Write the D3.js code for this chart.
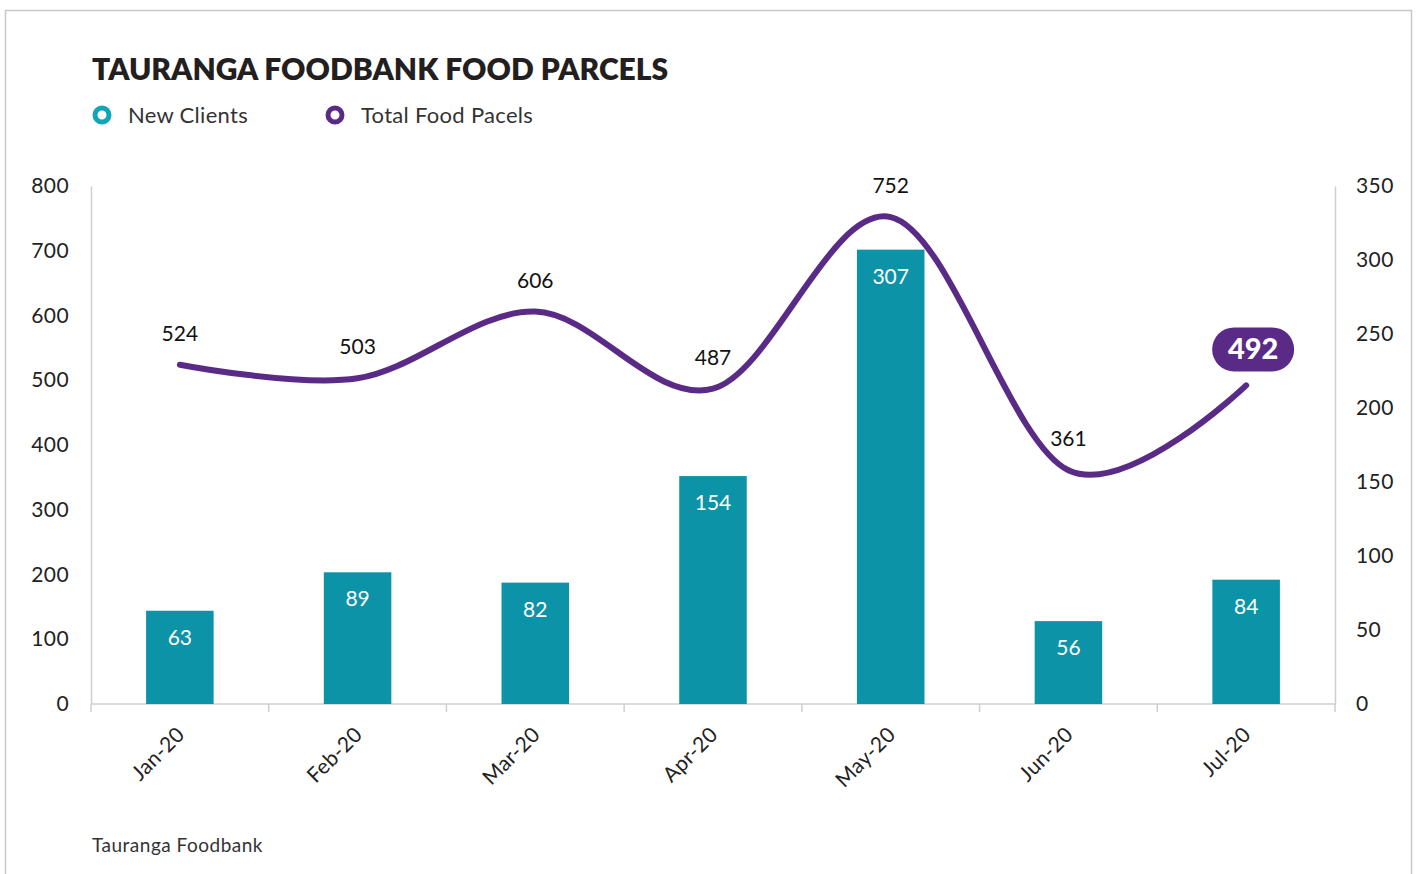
<html>
<script src="https://cdn.jsdelivr.net/npm/d3@7/dist/d3.min.js"></script>
<style>
  body { margin:0; background:#fff; }
  text { font-family: "Lato", "Open Sans", sans-serif; }
</style>
<body>
<svg id="chart"></svg>
<script>

// data
var months = ["Jan-20","Feb-20","Mar-20","Apr-20","May-20","Jun-20","Jul-20"];
var newClients = [63,89,82,154,307,56,84];
var totalParcels = [524,503,606,487,752,361,492];
var leftTicks = [0,100,200,300,400,500,600,700,800];
var rightTicks = [0,50,100,150,200,250,300,350];

var screen = {width:1416, height:874};
var margins = {top:186, bottom:170, left:91, right:81};
var graph = {
    width: screen.width - margins.left - margins.right,
    height: screen.height - margins.top - margins.bottom
};

var teal = "#0d93a8";
var purple = "#5a2a87";

var svg = d3.select("#chart")
    .attr("width", screen.width)
    .attr("height", screen.height);

// frame
svg.append("path")
    .attr("d","M5.5,874 V10.5 H1411.5 V874")
    .attr("fill","none")
    .attr("stroke","#c8c8c8")
    .attr("stroke-width",1.5);

// title + legend
svg.append("text")
    .attr("x",92).attr("y",80)
    .attr("font-size",30).attr("font-weight",800)
    .attr("fill","#231f20")
    .text("TAURANGA FOODBANK FOOD PARCELS");

var legend = [{name:"New Clients", color:"#12a5b9", x:102},
              {name:"Total Food Pacels", color:purple, x:335}];
var lg = svg.append("g").selectAll("g").data(legend).enter().append("g");
lg.append("circle")
    .attr("cx",function(d){ return d.x; }).attr("cy",115)
    .attr("r",7).attr("fill","none")
    .attr("stroke",function(d){ return d.color; }).attr("stroke-width",5);
lg.append("text")
    .attr("x",function(d){ return d.x+26; }).attr("y",123)
    .attr("font-size",22).attr("letter-spacing",0.3).attr("fill","#333")
    .text(function(d){ return d.name; });

// scales
var x = d3.scaleBand().domain(months).range([0,graph.width]).paddingInner(0.62).paddingOuter(0.31);
var xPoint = function(m){ return x(m) + x.bandwidth()/2; };
var yLeft = d3.scaleLinear().domain([0,800]).range([graph.height,0]);
var yRight = d3.scaleLinear().domain([0,350]).range([graph.height,0]);

var g = svg.append("g")
    .attr("transform","translate("+margins.left+","+margins.top+")");

// axes
var axisColor = "#cfcfcf";
var step = graph.width / months.length;
var xAxis = g.append("g").attr("transform","translate(0,"+graph.height+")");
xAxis.append("line").attr("x1",0).attr("x2",graph.width)
    .attr("stroke",axisColor).attr("stroke-width",1.5);
xAxis.selectAll(".tk").data(d3.range(months.length+1)).enter().append("line")
    .attr("x1",function(i){ return i*step; }).attr("x2",function(i){ return i*step; })
    .attr("y1",0).attr("y2",8)
    .attr("stroke",axisColor).attr("stroke-width",1.5);
xAxis.selectAll(".lb").data(months).enter().append("text")
    .attr("text-anchor","end")
    .attr("font-size",21).attr("letter-spacing",0.3).attr("fill","#222")
    .attr("transform",function(d){ return "translate("+(xPoint(d)+6)+",32) rotate(-45)"; })
    .text(function(d){ return d; });

var leftAxis = d3.axisLeft(yLeft).tickValues(leftTicks).tickSize(0).tickPadding(22);
var la = g.append("g").call(leftAxis);
la.select(".domain").attr("stroke",axisColor).attr("stroke-width",1.5);
la.selectAll("text").attr("font-size",21).attr("letter-spacing",0.4).attr("fill","#222").attr("font-family","Lato, sans-serif");

var rightAxis = d3.axisRight(yRight).tickValues(rightTicks).tickSize(0).tickPadding(21);
var ra = g.append("g").attr("transform","translate("+graph.width+",0)").call(rightAxis);
ra.select(".domain").attr("stroke",axisColor).attr("stroke-width",1.5);
ra.selectAll("text").attr("font-size",21).attr("letter-spacing",0.4).attr("fill","#222").attr("font-family","Lato, sans-serif");

// bars
g.selectAll(".bar").data(newClients).enter().append("rect")
    .attr("x",function(d,i){ return x(months[i]); })
    .attr("y",function(d){ return yRight(d); })
    .attr("width",x.bandwidth())
    .attr("height",function(d){ return graph.height - yRight(d); })
    .attr("fill",teal);
g.selectAll(".barlbl").data(newClients).enter().append("text")
    .attr("x",function(d,i){ return xPoint(months[i]); })
    .attr("y",function(d){ return yRight(d)+34; })
    .attr("text-anchor","middle")
    .attr("font-size",21).attr("fill","#fff")
    .text(function(d){ return d; });

// line
var line = d3.line()
    .x(function(d,i){ return xPoint(months[i]); })
    .y(function(d){ return yLeft(d); })
    .curve(d3.curveCardinal.tension(0));
g.append("path").datum(totalParcels)
    .attr("d",line)
    .attr("fill","none").attr("stroke",purple)
    .attr("stroke-width",6).attr("stroke-linecap","round");

var last = totalParcels.length-1;
g.selectAll(".linelbl").data(totalParcels.slice(0,last)).enter().append("text")
    .attr("x",function(d,i){ return xPoint(months[i]); })
    .attr("y",function(d){ return yLeft(d)-24; })
    .attr("text-anchor","middle")
    .attr("font-size",21).attr("fill","#111")
    .text(function(d){ return d; });

// highlighted last value
var lx = xPoint(months[last]) + 7, ly = yLeft(totalParcels[last]) - 36;
g.append("rect")
    .attr("x",lx-41).attr("y",ly-22)
    .attr("width",82).attr("height",44).attr("rx",22)
    .attr("fill",purple);
g.append("text")
    .attr("x",lx).attr("y",ly+10)
    .attr("text-anchor","middle")
    .attr("font-size",29).attr("font-weight",900).attr("fill","#fff")
    .text(totalParcels[last]);

// source
svg.append("text")
    .attr("x",92).attr("y",852)
    .attr("font-size",19).attr("letter-spacing",0.5).attr("fill","#333")
    .text("Tauranga Foodbank");

</script>
</body>
</html>
